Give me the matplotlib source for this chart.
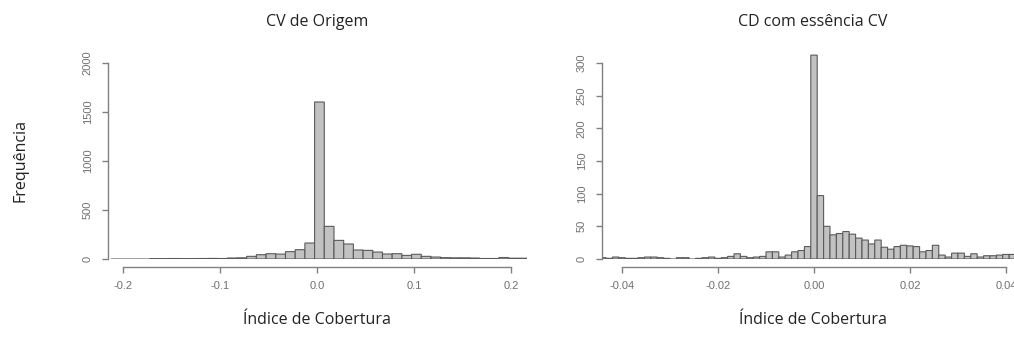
import numpy as np
import matplotlib.pyplot as plt

plt.rcParams['font.family'] = ['Open Sans', 'DejaVu Sans']

# left panel: CV de Origem, bins of width 0.01
left_edge0 = -0.2125
left_width = 0.01
left_counts = [0, 0, 0, 0,
               4, 3, 5, 4, 3, 5, 6, 5, 10, 12, 27, 44, 54, 50, 75, 95, 163,
               1602, 333, 190, 153, 92, 88, 71, 51, 54, 37, 48, 27, 20,
               14, 12, 12, 10, 5, 5, 15, 8, 8]
left_xticks = [-0.2, -0.1, 0.0, 0.1, 0.2]
left_xlabels = ['-0.2', '-0.1', '0.0', '0.1', '0.2']
left_yticks = [0, 500, 1000, 1500, 2000]

# right panel: CD com essência CV, bins of width 0.02/15 centred on k*w
right_width = 0.02 / 15
right_k0 = -33
right_counts = [2, 1, 3, 2, 1, 1, 2, 3, 3, 2, 1, 0, 2, 2, 0, 1, 2, 3, 1, 2, 4,
                8, 4, 2, 3, 4, 11, 11, 3, 6, 11, 13, 19,
                312, 97, 50, 37, 39, 42, 38, 32, 29, 23, 29, 18, 15, 19, 21,
                20, 19, 11, 13, 21, 6, 3, 9, 9, 4, 8, 3, 5, 5, 6, 7, 7]
right_xticks = [-0.04, -0.02, 0.0, 0.02, 0.04]
right_xlabels = ['-0.04', '-0.02', '0.00', '0.02', '0.04']
right_yticks = [0, 50, 100, 150, 200, 250, 300]

W, H = 1014, 340
fig = plt.figure(figsize=(W / 100, H / 100), dpi=100)

tick_col = '#707070'
spine_col = '#808080'


def style_axis(ax, xticks, xlabels, yticks):
    for s in ['top', 'right']:
        ax.spines[s].set_visible(False)
    ax.spines['left'].set_bounds(yticks[0], yticks[-1])
    ax.spines['bottom'].set_bounds(xticks[0], xticks[-1])
    ax.spines['bottom'].set_position(('outward', 6))
    for s in ['left', 'bottom']:
        ax.spines[s].set_color(spine_col)
        ax.spines[s].set_linewidth(1.0)
    ax.set_xticks(xticks)
    ax.set_xticklabels(xlabels, family='Liberation Sans')
    ax.set_yticks(yticks)
    ax.set_yticklabels([str(v) for v in yticks], rotation=90, va='center',
                       family='Liberation Sans')
    ax.tick_params(axis='both', direction='out', length=4, width=1.0,
                   color=spine_col, labelcolor=tick_col, labelsize=8)
    ax.tick_params(axis='x', pad=6)
    ax.tick_params(axis='y', pad=7)
    ax.set_facecolor('none')


bar_kw = dict(color='#c2c2c2', edgecolor='#5a5a5a', linewidth=0.8,
              align='edge', snap=False)

# left
ax1 = fig.add_axes([108 / W, (H - 259) / H, 419 / W, 200.9 / H])
lx = left_edge0 + left_width * np.arange(len(left_counts))
ax1.bar(lx, left_counts, width=left_width, **bar_kw)
ax1.set_xlim(-0.2155, 0.2165)
ax1.set_ylim(0, 2050)
style_axis(ax1, left_xticks, left_xlabels, left_yticks)

# right
ax2 = fig.add_axes([602 / W, (H - 259) / H, 424 / W, 207.8 / H])
rk = np.arange(right_k0, right_k0 + len(right_counts))
rx = (rk - 0.5) * right_width
ax2.bar(rx, right_counts, width=right_width, **bar_kw)
ax2.set_xlim(-0.04417, 0.04417)
ax2.set_ylim(0, 318)
style_axis(ax2, right_xticks, right_xlabels, right_yticks)

txt_col = '#222222'
fig.text(317 / W, 1 - 22 / H, 'CV de Origem', ha='center', va='center',
         fontsize=11.5, color=txt_col)
fig.text(813 / W, 1 - 22 / H, 'CD com essência CV', ha='center', va='center',
         fontsize=11.5, color=txt_col)
fig.text(317 / W, 1 - 320 / H, 'Índice de Cobertura', ha='center', va='center',
         fontsize=11.5, color=txt_col)
fig.text(813 / W, 1 - 320 / H, 'Índice de Cobertura', ha='center', va='center',
         fontsize=11.5, color=txt_col)
fig.text(20 / W, 1 - 160 / H, 'Frequência', ha='center', va='center',
         rotation=90, fontsize=11.5, color=txt_col)

fig.savefig('out.png', dpi=100)
